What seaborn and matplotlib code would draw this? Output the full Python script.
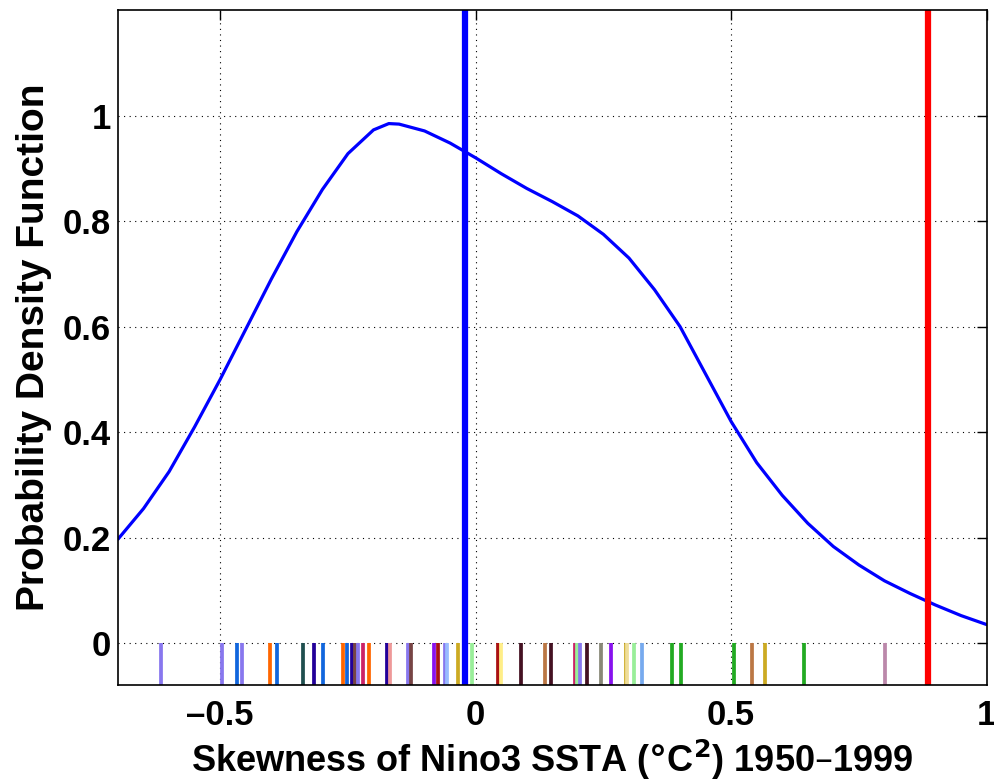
import matplotlib
matplotlib.use("Agg")
import numpy as np
import pandas as pd
import matplotlib.pyplot as plt
import seaborn as sns

# skewness of each model (rug marks) and its colour
skew = [-0.616, -0.497, -0.467, -0.458, -0.402, -0.389, -0.338, -0.317, -0.298,
        -0.260, -0.252, -0.243, -0.236, -0.231, -0.221, -0.208, -0.174, -0.167,
        -0.133, -0.126, -0.082, -0.074, -0.061, -0.057, -0.035, -0.008,
        0.044, 0.050, 0.088, 0.136, 0.148, 0.194, 0.199, 0.205, 0.217, 0.246,
        0.265, 0.294, 0.297, 0.310, 0.325, 0.384, 0.402, 0.506, 0.541, 0.566,
        0.643, 0.801]
colors = ['#8877ee', '#8877ee', '#1166dd', '#8877ee', '#ff6600', '#1166dd', '#1f4f4f', '#220099', '#1166dd',
          '#ff6600', '#1166dd', '#220099', '#774444', '#8877ee', '#cc2266', '#ff6600', '#220099', '#ee9999',
          '#8877ee', '#774444', '#8811ee', '#aa1111', '#8877ee', '#99bbff', '#ccaa22', '#99ee99',
          '#aa1111', '#ffee88', '#441122', '#bb7744', '#441122', '#cc2266', '#99ee99', '#8877ee', '#441122', '#888877',
          '#8811ee', '#ccaa22', '#eedd99', '#99ee99', '#77aaee', '#22aa22', '#22aa22', '#22aa22', '#bb7744', '#ccaa22',
          '#22aa22', '#bb88aa']

# PDF curve
pdf_x = [-0.70, -0.65, -0.60, -0.55, -0.50, -0.45, -0.40, -0.35, -0.30, -0.25,
         -0.20, -0.17, -0.15, -0.10, -0.05, 0.00, 0.05, 0.10, 0.15, 0.20,
         0.25, 0.30, 0.35, 0.40, 0.45, 0.50, 0.55, 0.60, 0.65, 0.70,
         0.75, 0.80, 0.85, 0.90, 0.95, 1.00]
pdf_y = [0.197, 0.255, 0.325, 0.41, 0.50, 0.595, 0.69, 0.78, 0.86, 0.928,
         0.973, 0.985, 0.984, 0.971, 0.948, 0.92, 0.89, 0.862, 0.837, 0.81,
         0.775, 0.73, 0.67, 0.60, 0.51, 0.42, 0.342, 0.28, 0.227, 0.183,
         0.148, 0.118, 0.094, 0.072, 0.052, 0.035]

obs_blue = -0.02   # observed value (blue line)
obs_red = 0.886    # second reference (red line)

df = pd.DataFrame({'skew': skew, 'model': ['m%02d' % i for i in range(len(skew))]})
pal = dict(zip(df['model'], colors))
pdf = pd.DataFrame({'x': pdf_x, 'y': pdf_y})

sns.set_style("white")
plt.rcParams['font.family'] = ['Liberation Sans', 'DejaVu Sans']
plt.rcParams['font.weight'] = 'bold'
plt.rcParams['text.color'] = 'black'
plt.rcParams['axes.labelcolor'] = 'black'
plt.rcParams['xtick.color'] = 'black'
plt.rcParams['ytick.color'] = 'black'

fig = plt.figure(figsize=(9.95, 7.84), dpi=100)
ax = fig.add_axes([0.1186, 0.126, 0.873, 0.861])

sns.lineplot(data=pdf, x='x', y='y', color='#0000ff', linewidth=2.3,
             solid_joinstyle='round', ax=ax)
sns.rugplot(data=df, x='skew', hue='model', palette=pal, height=0.08 / 1.28,
            linewidth=2.7, legend=False, ax=ax)

ax.axvline(obs_blue, color='#0000ff', linewidth=4.5)
ax.axvline(obs_red, color='#ff0000', linewidth=4.5)

ax.set_xlim(-0.7, 1.0)
ax.set_ylim(-0.08, 1.2)
ax.set_xticks([-0.5, 0, 0.5, 1])
ax.set_xticklabels(['\u20130.5', '0', '0.5', '1'])
ax.set_yticks([0, 0.2, 0.4, 0.6, 0.8, 1])
ax.set_yticklabels(['0', '0.2', '0.4', '0.6', '0.8', '1'])
ax.grid(True, color='black', linestyle=(0, (1, 4)), linewidth=0.8)
ax.tick_params(direction='in', top=True, right=True, length=7, width=1,
               labelsize=25, pad=5)
ax.tick_params(axis='x', pad=10)
for lab in ax.get_xticklabels() + ax.get_yticklabels():
    lab.set_fontweight('bold')
for s in ax.spines.values():
    s.set_color('black')
    s.set_linewidth(1.2)

ax.set_xlabel('Skewness of Nino3 SSTA ($\\degree$C$^\\mathbf{2}$) 1950\u20131999',
              fontsize=26, fontweight='bold', labelpad=4)
ax.set_ylabel('Probability Density Function', fontsize=28, fontweight='bold', labelpad=8)

fig.savefig('out.png', dpi=100)
